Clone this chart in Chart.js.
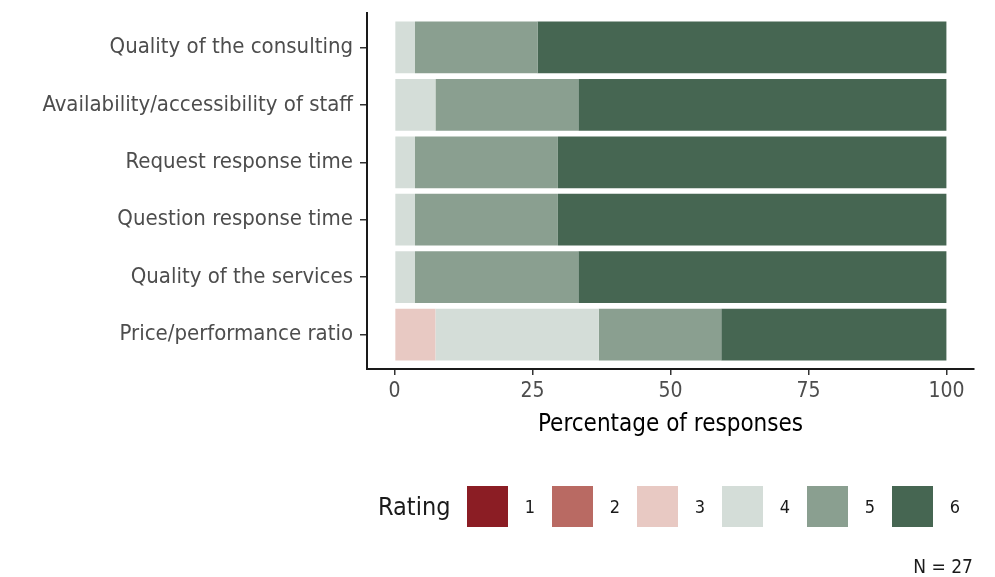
<!DOCTYPE html>
<html>
<head>
<meta charset="utf-8">
<script src="https://cdn.jsdelivr.net/npm/chart.js@4.4.1/dist/chart.umd.min.js"></script>
<style>
  html, body { margin: 0; padding: 0; background: #fff; }
  #wrap {
    position: relative; width: 995px; height: 577px;
    font-family: 'Liberation Sans Narrow', 'DejaVu Sans Condensed', sans-serif;
  }
  #legend { position: absolute; left: 378px; top: 486px; height: 41px; display: flex; align-items: center; }
  #legend .title { width: 89px; font-size: 25px; color: #1a1a1a; }
  #legend .item { display: flex; align-items: center; width: 85px; }
  #legend .box { width: 41px; height: 41px; }
  #legend .lab { width: 44px; text-align: center; font-size: 18px; color: #1a1a1a; }
  #note { position: absolute; right: 22px; top: 555px; font-size: 19px; color: #1a1a1a; }
</style>
</head>
<body>
<div id="wrap">
  <canvas id="chart" width="995" height="577"></canvas>
  <div id="legend"><span class="title">Rating</span></div>
  <div id="note">N = 27</div>
</div>
<script>
// === Data (percent of responses, N = 27) ===
const categories = [
  "Quality of the consulting",
  "Availability/accessibility of staff",
  "Request response time",
  "Question response time",
  "Quality of the services",
  "Price/performance ratio"
];
const rating1 = [0, 0, 0, 0, 0, 0];
const rating2 = [0, 0, 0, 0, 0, 0];
const rating3 = [0, 0, 0, 0, 0, 7.4];
const rating4 = [3.7, 7.4, 3.7, 3.7, 3.7, 29.6];
const rating5 = [22.2, 25.9, 25.9, 25.9, 29.6, 22.2];
const rating6 = [74.1, 66.7, 70.4, 70.4, 66.7, 40.8];

const ratingLabels = ["1", "2", "3", "4", "5", "6"];
const ratingColors = ["#8b1d24", "#b96a63", "#e8c9c3", "#d4ddd8", "#8a9f90", "#466652"];
const xTicks = [0, 25, 50, 75, 100];

const FONT = "'Liberation Sans Narrow', 'DejaVu Sans Condensed', sans-serif";
const series = [rating1, rating2, rating3, rating4, rating5, rating6];

// === Legend (HTML, below the plot) ===
const legend = document.getElementById("legend");
ratingLabels.forEach((lab, i) => {
  const item = document.createElement("span");
  item.className = "item";
  item.innerHTML = '<span class="box" style="background:' + ratingColors[i] + '"></span><span class="lab">' + lab + '</span>';
  legend.appendChild(item);
});

// === Chart ===
const ctx = document.getElementById("chart").getContext("2d");
new Chart(ctx, {
  type: "bar",
  data: {
    labels: categories,
    datasets: series.map((d, i) => ({
      label: ratingLabels[i],
      data: d,
      backgroundColor: ratingColors[i],
      borderWidth: 0,
      barPercentage: 0.9,
      categoryPercentage: 1
    }))
  },
  options: {
    indexAxis: "y",
    responsive: false,
    animation: false,
    layout: { padding: { top: 13, right: 21, left: 0, bottom: 138 } },
    plugins: { legend: { display: false }, tooltip: { enabled: false } },
    scales: {
      x: {
        stacked: true,
        min: -5,
        max: 105,
        afterBuildTicks: (s) => { s.ticks = xTicks.map(v => ({ value: v })); },
        afterFit: (s) => { s.height = 70; },
        ticks: { font: { family: FONT, size: 21 }, color: "#4d4d4d", padding: 4 },
        grid: { drawOnChartArea: false, tickLength: 6, color: "#333", lineWidth: 1.5 },
        border: { color: "#1a1a1a", width: 2 },
        title: {
          display: true,
          text: "Percentage of responses",
          font: { family: FONT, size: 24 },
          color: "#000",
          padding: 0
        }
      },
      y: {
        stacked: true,
        offset: false,
        // ggplot-style expansion of 0.6 category units on each side
        afterBuildTicks: (s) => { s._startValue = -0.6; s._valueRange = categories.length - 1 + 1.2; },
        afterFit: (s) => { s.width = 367; s.paddingTop = 0; s.paddingBottom = 0; },
        ticks: { font: { family: FONT, size: 22 }, color: "#4d4d4d", padding: 7 },
        grid: { drawOnChartArea: false, offset: false, tickLength: 7, color: "#333", lineWidth: 1.5 },
        border: { color: "#1a1a1a", width: 2 }
      }
    }
  }
});
</script>
</body>
</html>
